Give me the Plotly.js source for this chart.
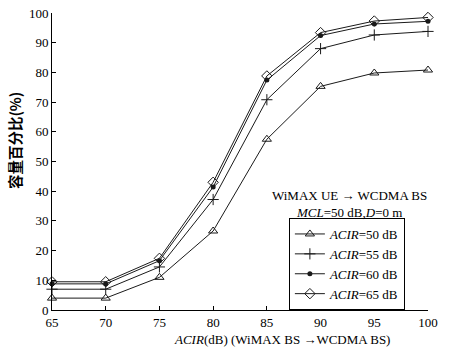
<!DOCTYPE html>
<html>
<head>
<meta charset="utf-8">
<script src="https://cdn.plot.ly/plotly-3.0.1.min.js"></script>
<style>html,body{margin:0;padding:0;background:#fff;}#chart{width:450px;height:347px;}</style>
</head>
<body>
<div id="chart"></div>
<script>
// ACIR (WiMAX BS -> WCDMA BS), dB
const acirBS = [65, 70, 75, 80, 85, 90, 95, 100];
// capacity percentage (%) for each ACIR (WiMAX UE -> WCDMA BS) value
const cap50 = [4, 4, 11, 26.6, 57.5, 75.3, 79.8, 80.8];
const cap55 = [7, 7, 14.5, 37.2, 70.8, 88, 92.6, 93.8];
const cap60 = [8.8, 8.8, 16.6, 41.4, 77.4, 92.4, 96.3, 97.2];
const cap65 = [9.5, 9.5, 17.4, 43, 78.8, 93.4, 97.3, 98.5];
const seriesNames = ['<i>ACIR</i>=50 dB', '<i>ACIR</i>=55 dB', '<i>ACIR</i>=60 dB', '<i>ACIR</i>=65 dB'];
const xTitle = '<i>ACIR</i>(dB) (WiMAX BS →WCDMA BS)';
const yTitle = '容量百分比(%)';
const noteLine1 = 'WiMAX UE → WCDMA BS';
const noteLine2 = '<i>MCL</i>=50 dB,<i>D</i>=0 m';

const serif = 'Liberation Serif, Times New Roman, serif';
const lineColor = '#1a1a1a';
const styles = [
  {symbol: 'triangle-up-open', size: 8, line: {width: 1, color: lineColor}},
  {symbol: 'cross-thin-open', size: 8, line: {width: 1, color: lineColor}},
  {symbol: 'circle', size: 5, line: {width: 0}},
  {symbol: 'diamond-open', size: 8, line: {width: 1, color: lineColor}}
];
const allY = [cap50, cap55, cap60, cap65];
const traces = allY.map((ys, i) => ({
  x: acirBS, y: ys, name: seriesNames[i], type: 'scatter', mode: 'lines+markers',
  line: {color: lineColor, width: 1},
  marker: Object.assign({color: lineColor}, styles[i]),
  cliponaxis: false
}));

const layout = {
  width: 450, height: 347,
  margin: {l: 52, r: 22, t: 13, b: 37},
  paper_bgcolor: '#fff', plot_bgcolor: '#fff',
  font: {family: serif, size: 13, color: '#000'},
  showlegend: true,
  legend: {
    x: 0.63, xanchor: 'left', y: 0, yanchor: 'bottom',
    bgcolor: '#fff', bordercolor: '#000', borderwidth: 1,
    font: {family: serif, size: 13, color: '#000'},
    itemwidth: 30, tracegroupgap: 0
  },
  xaxis: {
    range: [65, 100], dtick: 5, tick0: 65,
    showline: true, linecolor: '#000', linewidth: 1,
    ticks: 'inside', ticklen: 4, tickcolor: '#000',
    showgrid: false, zeroline: false, mirror: false,
    tickfont: {family: serif, size: 13, color: '#000'}
  },
  yaxis: {
    range: [0, 100], dtick: 10, tick0: 0,
    showline: true, linecolor: '#000', linewidth: 1,
    ticks: 'inside', ticklen: 4, tickcolor: '#000',
    showgrid: false, zeroline: false, mirror: false,
    tickfont: {family: serif, size: 13, color: '#000'}
  },
  annotations: [
    {text: xTitle, xref: 'paper', yref: 'paper', x: 0.612, y: -0.1, xanchor: 'center', yanchor: 'middle',
     showarrow: false, font: {family: serif, size: 13, color: '#000'}},
    {text: yTitle, xref: 'paper', yref: 'paper', x: -0.1, y: 0.57, xanchor: 'center', yanchor: 'middle',
     textangle: -90, showarrow: false, font: {family: 'Noto Sans CJK SC, sans-serif', size: 14.5, color: '#000', weight: 'bold'}},
    {text: noteLine1, xref: 'paper', yref: 'paper', x: 0.79, y: 0.385, xanchor: 'center', yanchor: 'middle',
     showarrow: false, font: {family: serif, size: 13, color: '#000'}},
    {text: noteLine2, xref: 'paper', yref: 'paper', x: 0.79, y: 0.327, xanchor: 'center', yanchor: 'middle',
     showarrow: false, font: {family: serif, size: 13, color: '#000'}}
  ]
};

Plotly.newPlot('chart', traces, layout, {displayModeBar: false, staticPlot: true});
</script>
</body>
</html>
